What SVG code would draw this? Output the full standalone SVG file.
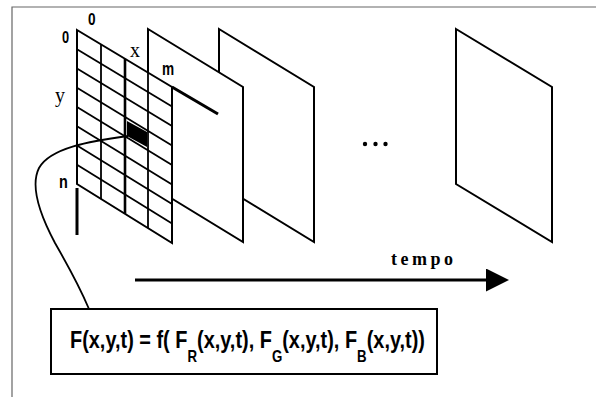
<svg xmlns="http://www.w3.org/2000/svg" width="596" height="397" viewBox="0 0 596 397">
<style>
.frame{fill:#fff;stroke:#000;stroke-width:2;stroke-linejoin:miter}
.grid{fill:none;stroke:#000;stroke-width:1.8}
.thick{stroke:#000;stroke-width:3;fill:none}
.border{stroke:#666;stroke-width:1.2;fill:none}
.sans{font-family:"Liberation Sans",Arial,sans-serif;font-weight:bold;fill:#000}
.serif{font-family:"Liberation Serif","Times New Roman",serif;fill:#000}
.conn{fill:none;stroke:#000;stroke-width:1.8}
</style>
<defs>
<marker id="ah" markerUnits="userSpaceOnUse" markerWidth="24" markerHeight="24" viewBox="0 0 24 24" refX="0" refY="11.5" orient="auto">
<path d="M0,0 L23,11.5 L0,23 Z" fill="#000"/>
</marker>
</defs>
<rect width="596" height="397" fill="#fff"/>
<path class="border" d="M12,397 L12,7 L596,7"/>

<g id="frame4"><polygon class="frame" points="456,29 552,87 552,242 456,184"/></g>
<g id="frame3"><polygon class="frame" points="219,29 314,87 314,242 219,184"/></g>
<g id="frame2"><polygon class="frame" points="148,29 243,87 243,242 148,184"/></g>

<g id="grid">
<polygon class="frame" points="77,30 172,87 172,243 77,184"/>
<polygon points="127,121 147,132 147,147 127,136" fill="#000"/>
<g class="grid">
<line x1="77" y1="49.25" x2="172" y2="106.5"/>
<line x1="77" y1="68.5" x2="172" y2="126"/>
<line x1="77" y1="87.75" x2="172" y2="145.5"/>
<line x1="77" y1="107" x2="172" y2="165"/>
<line x1="77" y1="126.25" x2="172" y2="184.5"/>
<line x1="77" y1="145.5" x2="172" y2="204"/>
<line x1="77" y1="164.75" x2="172" y2="223.5"/>
<line x1="101" y1="44.4" x2="101" y2="198.9"/>
<line x1="148" y1="72.6" x2="148" y2="228"/>
</g>
<line x1="125" y1="58.8" x2="125" y2="213.8" stroke="#000" stroke-width="2.6"/>
<line class="thick" x1="172" y1="87" x2="218" y2="114"/>
<line class="thick" x1="77" y1="188" x2="77" y2="235"/>
<text class="sans" font-size="17" transform="translate(88,25) scale(0.8,1)">0</text>
<text class="sans" font-size="16" transform="translate(62,43) scale(0.8,1)">0</text>
<text class="serif" font-size="20" x="130" y="57">x</text>
<text class="serif" font-size="20" x="55" y="102">y</text>
<text class="sans" font-size="19" transform="translate(162,75) scale(0.72,1)">m</text>
<text class="sans" font-size="19" transform="translate(59,188) scale(0.76,1)">n</text>
</g>

<g id="dots">
<circle cx="365" cy="144" r="2.2" fill="#000"/>
<circle cx="375.5" cy="144" r="2.2" fill="#000"/>
<circle cx="385.5" cy="144" r="2.2" fill="#000"/>
</g>

<g id="label-tempo">
<text class="serif" font-weight="bold" font-size="18" letter-spacing="3.5" x="391" y="265">tempo</text>
</g>

<g id="formula">
<rect x="51" y="309" width="386" height="65" fill="#fff" stroke="#000" stroke-width="2"/>
<text class="sans" font-size="24" transform="translate(70,348) scale(0.83,1)">F(x,y,t) = f( F<tspan font-size="16" dy="14">R</tspan><tspan dy="-14">(x,y,t), F</tspan><tspan font-size="16" dy="14">G</tspan><tspan dy="-14">(x,y,t), F</tspan><tspan font-size="16" dy="14">B</tspan><tspan dy="-14">(x,y,t))</tspan></text>
</g>

<g id="connectors">
<path class="conn" d="M128,136 C90,141 50,148 39,168 C30,186 40,215 55,243 Q78,283 89,309"/>
<line x1="135" y1="280" x2="486" y2="280" stroke="#000" stroke-width="3" marker-end="url(#ah)"/>
</g>
</svg>
